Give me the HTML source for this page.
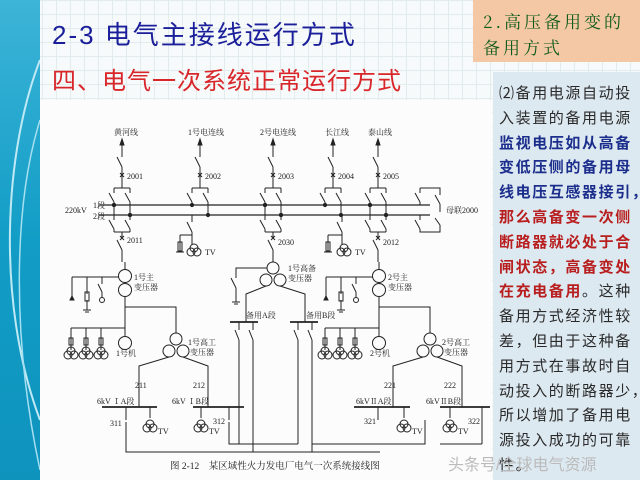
<!DOCTYPE html>
<html><head><meta charset="utf-8"><style>
html,body{margin:0;padding:0;}
body{width:640px;height:480px;overflow:hidden;position:relative;font-family:"Liberation Sans","Noto Sans CJK SC",sans-serif;
background-color:#f7fafa;background-image:linear-gradient(#e3ecec 1px,transparent 1px),linear-gradient(90deg,#e3ecec 1px,transparent 1px);background-size:14px 14px;}
.strip{position:absolute;left:0;top:0;width:40px;height:480px;background:linear-gradient(180deg,#3db4d8,#129dc6 50%,#0e93bd);overflow:hidden;}
.t1{position:absolute;left:52px;top:18px;font-size:26px;line-height:34px;letter-spacing:2px;color:#1a1e9a;white-space:nowrap;}
.t2{position:absolute;left:52px;top:65px;font-size:24px;line-height:34px;letter-spacing:1px;color:#d8262a;white-space:nowrap;}
.orange{position:absolute;left:473px;top:0;width:167px;height:62px;background:#f4c8a4;}
.orange div{position:absolute;left:10px;top:8px;font-family:"Noto Serif CJK SC",serif;font-size:17px;line-height:26px;color:#0e5a1a;letter-spacing:3px;white-space:nowrap;}
.panel{position:absolute;left:493px;top:72px;width:147px;height:408px;background:#dde9f1;}
.panel p{margin:0;padding:10px 0 0 6px;font-size:15px;line-height:24.8px;color:#2a2a2a;letter-spacing:1.6px;white-space:nowrap;font-family:"Liberation Sans","Noto Sans CJK SC",sans-serif;}
.b{color:#1c2e8c;font-weight:bold}.r{color:#b81e1e;font-weight:bold}
.diag{position:absolute;left:40px;top:100px;width:452px;height:380px;background:#fcfcfc;}
svg{position:absolute;left:0;top:0;}
</style></head><body>
<div class="strip"><svg width="40" height="480"><path d="M40,60 C5,150 -5,300 40,420" stroke="#bfe9f5" stroke-width="2" fill="none"/><path d="M40,120 C15,200 10,330 40,470" stroke="#a5dff0" stroke-width="1.5" fill="none"/></svg></div>
<div class="t1">2-3 电气主接线运行方式</div>
<div class="t2">四、电气一次系统正常运行方式</div>
<div class="orange"><div>2.高压备用变的<br>备用方式</div></div>
<div class="diag"></div>
<div class="panel"><p>⑵备用电源自动投<br>入装置的备用电源<br><span class="b">监视电压如从高备<br>变低压侧的备用母<br>线电压互感器接引，</span><br><span class="r">那么高备变一次侧<br>断路器就必处于合<br>闸状态，高备变处<br>在充电备用</span>。这种<br>备用方式经济性较<br>差，但由于这种备<br>用方式在事故时自<br>动投入的断路器少，<br>所以增加了备用电<br>源投入成功的可靠<br>性。</p></div>
<svg width="640" height="480" style="font-family:'Liberation Serif','Noto Serif CJK SC',serif;font-size:8px;fill:#222">
<defs>
<g id="feed" stroke="#222" stroke-width="1" fill="none">
<path d="M0,142 L0,157 M-5,157 L0,167 M0,167 L0,188 M-8,188 L8,188 M-8,188 L-8,193 M-13,193 L-8,202 M-8,202 L-8,205 M8,188 L8,193 M3,193 L8,202 M8,202 L8,215 M-2,173 L2,177 M2,173 L-2,177"/>
<polygon points="0,139 -2,145 2,145" fill="#222"/>
<circle cx="-8" cy="205" r="1.6" fill="#222"/><circle cx="8" cy="215" r="1.6" fill="#222"/>
</g>
<g id="down" stroke="#222" stroke-width="1" fill="none">
<path d="M-8,205 L-8,220 M-13,220 L-8,229 M-8,229 L-8,232 M8,215 L8,220 M3,220 L8,229 M8,229 L8,232 M-8,232 L8,232 M0,232 L0,238 M-2,236 L2,240 M2,236 L-2,240 M-5,240 L0,250 M0,250 L0,262"/>
<circle cx="-8" cy="205" r="1.6" fill="#222"/><circle cx="8" cy="215" r="1.6" fill="#222"/>
</g>
<g id="pt" stroke="#222" stroke-width="1" fill="none"><circle cx="-3" cy="0" r="4"/><circle cx="3" cy="0" r="4"/><circle cx="0" cy="-4" r="4"/></g>
<g id="gen" stroke="#222" stroke-width="1" fill="none">
<path d="M0,262 L0,270"/><circle cx="0" cy="276" r="6.5"/><circle cx="0" cy="290" r="6.5"/>
<path d="M-6,277 L-53,277 M-53,277 L-53,300 M-38,277 L-38,294 M-23,277 L-23,284 M-27,284 L-23,292 M-23,292 L-23,298 M-38,300 L-38,310 M-42,310 L-34,310 M-40,312 L-36,312"/>
<rect x="-40" y="292" width="4" height="9"/><circle cx="-23" cy="300" r="2.5"/>
<polygon points="-53,296 -55,300 -51,300" fill="#222"/>
<path d="M0,297 L0,337 M0,307 L51,307 L51,333 M0,328 L-54,328 M-54,328 L-54,350 M-39,328 L-39,350 M-24,328 L-24,350"/>
<circle cx="0" cy="343" r="6.5"/>
<rect x="-56" y="338" width="4" height="7"/><rect x="-41" y="338" width="4" height="7"/><rect x="-26" y="338" width="4" height="7"/>
<use href="#pt" x="-54" y="355"/><use href="#pt" x="-39" y="355"/><use href="#pt" x="-24" y="355"/>
<circle cx="51" cy="339" r="6"/><circle cx="44" cy="351" r="6"/><circle cx="58" cy="351" r="6"/>
<path d="M44,357 L14,366 L14,400 M58,357 L83,366 L83,400 M14,396 L14,407 M83,396 L83,407"/>
</g>
</defs>
<g stroke="#222" stroke-width="1.2"><line x1="99" y1="205" x2="430" y2="205"/><line x1="99" y1="215" x2="430" y2="215"/></g>
<use href="#feed" x="122"/><use href="#feed" x="200"/><use href="#feed" x="273"/><use href="#feed" x="333"/><use href="#feed" x="378"/>
<use href="#down" x="122"/><use href="#down" x="273"/><use href="#down" x="378"/>
<g stroke="#222" stroke-width="1" fill="none">
<path d="M420,188 L440,188 L440,195 M435,195 L440,204 M440,204 L440,212 M420,188 L420,193 M415,193 L420,202 M420,202 L420,205 M420,215 L420,220 M415,220 L420,229 M420,229 L420,232 L440,232 L440,225 M435,218 L440,225"/>
<path d="M192,215 L192,222 M187,222 L192,232 M192,232 L192,235 M180,235 L192,235 M180,235 L180,244 M180,244 L180,252 M176,252 L184,252 M192,235 L192,245"/><rect x="178" y="242" width="4" height="9"/><use href="#pt" x="194" y="252"/>
<path d="M342,215 L342,222 M337,222 L342,232 M342,232 L342,235 M328,235 L342,235 M328,235 L328,252 M324,252 L332,252 M342,235 L342,245"/><rect x="326" y="242" width="4" height="9"/><use href="#pt" x="344" y="252"/>
<circle cx="273" cy="268" r="6"/><circle cx="266" cy="280" r="6"/><circle cx="280" cy="280" r="6"/>
<path d="M267,268 L236,268 L236,278 M231,278 L236,288 M236,288 L236,302 M232,302 L240,302 M234,304 L238,304"/>
<path d="M266,286 L246,294 L246,322 M280,286 L305,294 L305,322"/>
<path d="M230,322 L258,322 M290,322 L318,322" stroke-width="1.8"/>
<path d="M239,322 L239,330 M235,330 L239,340 M239,340 L239,444 M253,322 L253,330 M249,330 L253,340 M253,340 L253,452 M298,322 L298,330 M294,330 L298,340 M298,340 L298,444 M312,322 L312,330 M308,330 L312,340 M312,340 L312,452"/>
<path d="M126,422 L126,452 L380,452 M229,422 L229,444 L298,444 M312,444 L425,444 L425,420 M440,444 L482,444 M482,444 L482,420"/>
<path d="M102,407 L157,407 M193,407 L244,407 M354,407 L410,407 M440,407 L490,407" stroke-width="1.8"/>
<path d="M126,407 L126,420 M150,407 L150,418 M201,407 L201,418 M229,407 L229,420 M378,407 L378,420 M404,407 L404,418 M450,407 L450,418 M482,407 L482,420"/>
</g>
<g stroke="#222" fill="none"><use href="#pt" x="150" y="428"/><use href="#pt" x="201" y="428"/><use href="#pt" x="404" y="428"/><use href="#pt" x="450" y="428"/></g>
<use href="#gen" x="125"/><use href="#gen" x="379"/>
<g>
<text x="114" y="135">黄河线</text><text x="188" y="135">1号电连线</text><text x="260" y="135">2号电连线</text><text x="325" y="135">长江线</text><text x="368" y="135">泰山线</text>
<text x="127" y="179">2001</text><text x="205" y="179">2002</text><text x="278" y="179">2003</text><text x="338" y="179">2004</text><text x="383" y="179">2005</text>
<text x="93" y="208">1段</text><text x="65" y="213">220kV</text><text x="93" y="219">2段</text><text x="446" y="213">母联2000</text>
<text x="127" y="243">2011</text><text x="278" y="245">2030</text><text x="383" y="245">2012</text>
<text x="205" y="255">TV</text><text x="355" y="255">TV</text>
<text x="134" y="280">1号主</text><text x="134" y="290">变压器</text><text x="288" y="271">1号高备</text><text x="288" y="281">变压器</text>
<text x="388" y="280">2号主</text><text x="388" y="290">变压器</text>
<text x="246" y="318">备用A段</text><text x="306" y="318">备用B段</text>
<text x="116" y="356">1号机</text><text x="370" y="356">2号机</text>
<text x="188" y="345">1号高工</text><text x="190" y="355">变压器</text><text x="442" y="345">2号高工</text><text x="444" y="355">变压器</text>
<text x="135" y="388">211</text><text x="193" y="388">212</text><text x="384" y="388">221</text><text x="444" y="388">222</text>
<text x="97" y="404">6kV ⅠA段</text><text x="172" y="404">6kV ⅠB段</text><text x="356" y="404">6kVⅡA段</text><text x="426" y="404">6kVⅡB段</text>
<text x="110" y="426">311</text><text x="213" y="424">312</text><text x="364" y="424">321</text><text x="468" y="424">322</text>
<text x="158" y="434">TV</text><text x="209" y="434">TV</text><text x="412" y="434">TV</text><text x="458" y="434">TV</text>
<text x="170" y="469" font-size="9.5">图 2-12　某区域性火力发电厂电气一次系统接线图</text>
</g>
<text x="448" y="470" font-size="16" fill="#bbb" style="font-family:'Liberation Sans','Noto Sans CJK SC',sans-serif">头条号/全球电气资源</text>
</svg>
</body></html>
